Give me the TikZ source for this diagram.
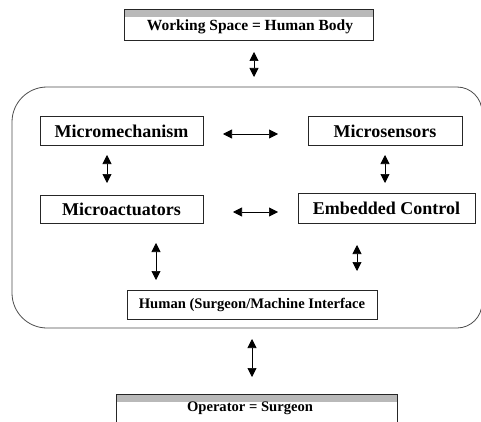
\documentclass[tikz,border=0pt]{standalone}
\usepackage{fontspec}
\setmainfont{Liberation Serif}
\usetikzlibrary{arrows.meta}
\tikzset{
  box/.style={draw=black!85, line width=0.8pt, inner sep=0pt, font=\bfseries\fontsize{18}{20}\selectfont},
  smallbox/.style={draw=black!85, line width=0.8pt, inner sep=0pt, font=\bfseries\fontsize{14.6}{16}\selectfont},
  headbox/.style={draw=black!85, line width=0.8pt, inner sep=0pt, font=\bfseries\fontsize{15.5}{17}\selectfont},
  dbl/.style={line width=0.7pt, {Triangle[width=9pt,length=9pt]}-{Triangle[width=9pt,length=9pt]}},
  band/.style={fill=gray!55, draw=none},
  frame/.style={draw=black!70, line width=0.8pt}
}
\begin{document}
\begin{tikzpicture}[x=1pt,y=-1pt]
\useasboundingbox (0,0) rectangle (481,422);
\clip (0,0) rectangle (481,422);
% outer rounded frame
\draw[frame] (250,87) [rounded corners=25] -- (482,87) -- (482,328) [rounded corners=35] -- (12,328) -- (12,87) -- (250,87);
% top box
\node[headbox, draw=none, minimum width=248pt, minimum height=30pt, anchor=center] (ws) at (249,25) {};
\fill[band] (ws.north west) rectangle ([yshift=-7pt]ws.north east);
\draw[black!85, line width=0.8pt] (ws.north west) rectangle (ws.south east);
\node[headbox, draw=none, anchor=center] (wst) at (250,27) {Working Space = Human Body};
% inner boxes
\node[box, minimum width=163pt, minimum height=29pt] (mm) at (121.5,131) {Micromechanism};
\node[box, minimum width=154pt, minimum height=29pt] (ms) at (385,131) {Microsensors};
\node[box, minimum width=163pt, minimum height=28pt] (ma) at (121.5,209) {Microactuators};
\node[box, minimum width=177pt, minimum height=30pt] (ec) at (386.5,208) {Embedded Control};
\node[smallbox, minimum width=250pt, minimum height=29pt] (hu) at (252,304.5) {Human (Surgeon/Machine Interface};
% operator box
\node[smallbox, draw=none, minimum width=280pt, minimum height=30pt] (op) at (257,410) {};
\fill[band] (op.north west) rectangle ([yshift=-7pt]op.north east);
\draw[black!85, line width=0.8pt] (op.north west) rectangle (op.south east);
\node[smallbox, draw=none] (opt) at (250,408) {Operator = Surgeon};
% arrow end points
\coordinate (a1s) at (254,52); \coordinate (a1e) at (254,77);
\coordinate (a2s) at (223,134); \coordinate (a2e) at (278,134);
\coordinate (a3s) at (107,155); \coordinate (a3e) at (107,183);
\coordinate (a4s) at (385,155); \coordinate (a4e) at (385,183);
\coordinate (a5s) at (233,212); \coordinate (a5e) at (278,212);
\coordinate (a6s) at (156,243); \coordinate (a6e) at (156,280);
\coordinate (a7s) at (357,245); \coordinate (a7e) at (357,271);
\coordinate (a8s) at (252,339); \coordinate (a8e) at (252,377);
\draw[dbl] (a1s) -- (a1e);
\draw[dbl] (a2s) -- (a2e);
\draw[dbl] (a3s) -- (a3e);
\draw[dbl] (a4s) -- (a4e);
\draw[dbl] (a5s) -- (a5e);
\draw[dbl] (a6s) -- (a6e);
\draw[dbl] (a7s) -- (a7e);
\draw[dbl] (a8s) -- (a8e);
\end{tikzpicture}
\end{document}
